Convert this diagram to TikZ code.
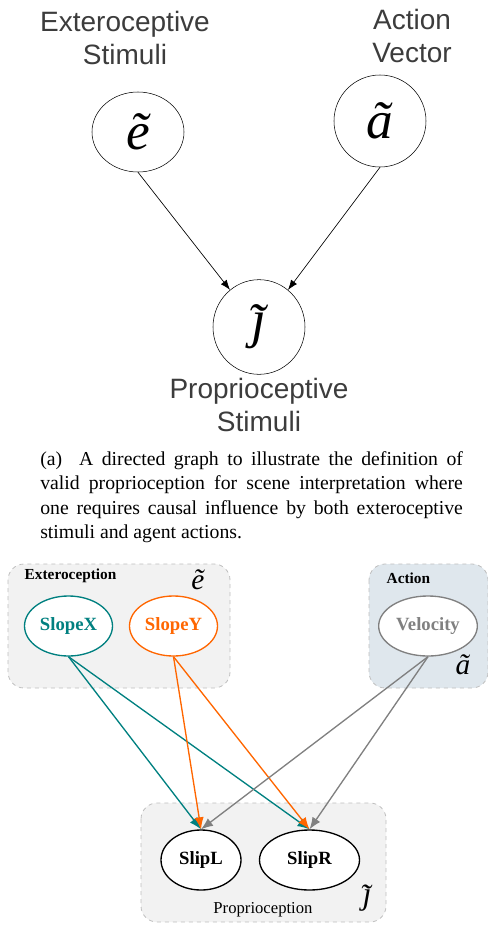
\documentclass[tikz,border=0pt]{standalone}
\usepackage{fontspec}
\setmainfont{Liberation Serif}
\setsansfont{Liberation Sans}
\usetikzlibrary{arrows.meta,positioning,shapes.geometric}

\definecolor{slopexcol}{RGB}{0,128,128}
\definecolor{slopeycol}{RGB}{255,102,0}
\definecolor{velcol}{RGB}{128,128,128}
\definecolor{boxgray}{RGB}{242,242,242}
\definecolor{boxblue}{RGB}{223,231,237}
\definecolor{boxline}{RGB}{190,190,190}
\definecolor{toptext}{RGB}{60,60,60}

% italic j with a tilde in place of the dot
\newcommand{\jtil}{\rlap{\kern-0.36em\raisebox{-0.06em}{\~{\phantom{\i}}}}\j}

\begin{document}
\begin{tikzpicture}[x=0.75pt,y=-0.75pt]
    \tikzset{var/.style= {draw, ellipse, inner sep=0pt
    , minimum width=69pt
    , font=\itshape\fontsize{40}{40}\selectfont
      }
    , title/.style= {align=center, text=toptext
    , font=\sffamily\fontsize{21}{25}\selectfont
      }
    , group/.style= {draw=boxline, dashed, rounded corners=12pt, line width=0.6pt}
    , grouplabel/.style= {font=\bfseries\fontsize{11.5}{12}\selectfont}
    , tildelabel/.style= {font=\itshape\fontsize{22}{22}\selectfont}
    , rv/.style= {draw, ellipse, line width=1pt, fill=white
    , minimum width=66pt, minimum height=45pt, inner sep=0pt
    , font=\bfseries\fontsize{14}{14}\selectfont
      }
    , edge/.style= {line width=1pt, -{Latex[length=9pt,width=7pt]}}
    }
\useasboundingbox (0,0) rectangle (488,925);

% top graph
\node [var, minimum height=60pt] (e) at (138,132) {\~{e}};
\node [var, minimum height=69pt] (a) at (380,121) {\~{a}};
\node [var, minimum height=71pt] (j) at (259,327) {\jtil};

\node [title] (etitle) at (125,38) {Exteroceptive\\Stimuli};
\node [title] (atitle) at (412,36) {Action\\Vector};
\node [title] (jtitle) at (259,405) {Proprioceptive\\Stimuli};

 \path[draw, -{Latex[length=7.5pt,width=5.5pt]}, line width=0.5pt]
  (e.south) -- (j.128);
 \path[draw, -{Latex[length=7.5pt,width=5.5pt]}, line width=0.5pt]
  (a.south) -- (j.52);

% caption
\node [anchor=north west, text width=317pt, align=justify, inner sep=0pt
, font=\fontsize{14.8}{18.4}\selectfont] (caption) at (40,451)
{(a)~~A directed graph to illustrate the definition of\linebreak
valid proprioception for scene interpretation where\linebreak
one requires causal influence by both exteroceptive\linebreak
stimuli and agent actions.};

% bottom graph
\path[group, fill=boxgray] (8,564) rectangle (230,688);
\path[group, fill=boxblue] (369,564) rectangle (488,688);
\path[group, fill=boxgray] (141,803) rectangle (386,922);

\node [grouplabel, anchor=west] (extlabel) at (20,576) {Exteroception};
\node [grouplabel, anchor=west] (actlabel) at (382,578) {Action};
\node [font=\fontsize{12.5}{13}\selectfont] (proplabel) at (263,910) {Proprioception};
\node [tildelabel] (etilde) at (198,580) {\~{e}};
\node [tildelabel] (atilde) at (463,665) {\~{a}};
\node [tildelabel, font=\itshape\fontsize{24}{24}\selectfont] (jtilde) at (367,898) {\jtil};

\node [rv, draw=slopexcol, text=slopexcol] (slopex) at (68.5,626) {SlopeX};
\node [rv, draw=slopeycol, text=slopeycol] (slopey) at (173.5,626) {SlopeY};
\node [rv, draw=velcol, text=velcol, minimum width=74pt] (vel) at (428,626) {Velocity};
\node [rv, minimum width=60pt] (slipl) at (201,860) {SlipL};
\node [rv, minimum width=75pt] (slipr) at (309.5,860) {SlipR};

 \path[draw, edge, slopexcol] (slopex.south) -- (slipl.north);
 \path[draw, edge, slopexcol] (slopex.south) -- (slipr.north);
 \path[draw, edge, slopeycol] (slopey.south) -- (slipl.north);
 \path[draw, edge, slopeycol] (slopey.south) -- (slipr.north);
 \path[draw, edge, velcol] (vel.south) -- (slipl.north);
 \path[draw, edge, velcol] (vel.south) -- (slipr.north);
\end{tikzpicture}
\end{document}
